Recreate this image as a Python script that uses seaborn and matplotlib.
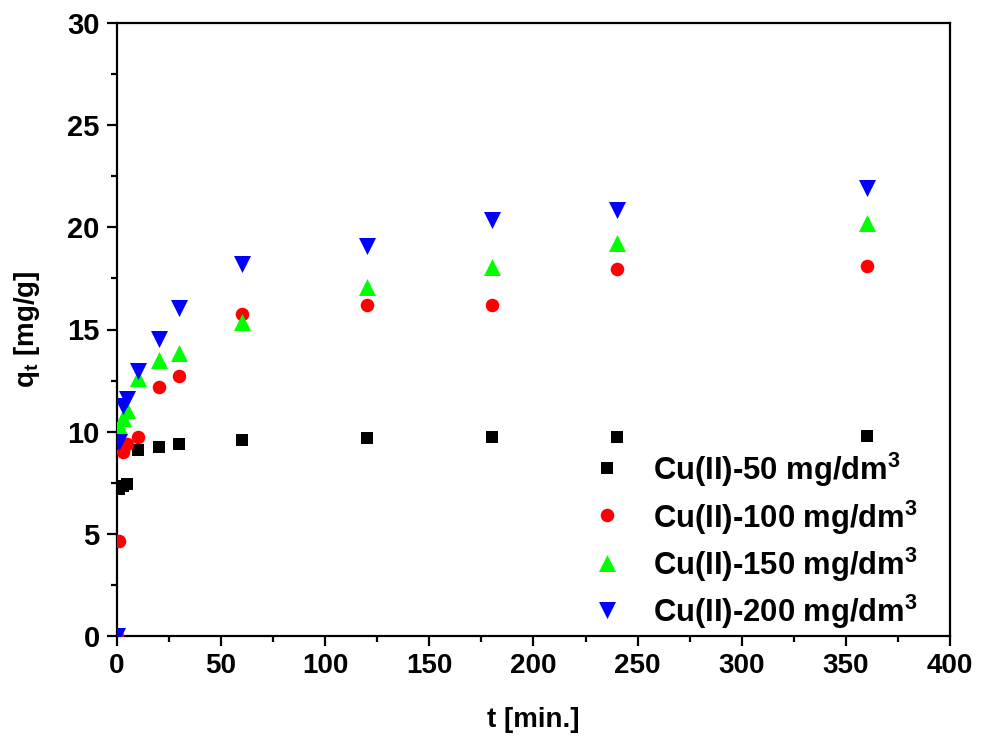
import matplotlib
matplotlib.use("Agg")
import matplotlib.pyplot as plt
from matplotlib.ticker import MultipleLocator
import seaborn as sns
import pandas as pd

# Contact time [min]
t_min = [0, 1, 3, 5, 10, 20, 30, 60, 120, 180, 240, 360]

# Sorbed amount q_t [mg/g] for each initial Cu(II) concentration
q_50 = [0, 7.2, 7.35, 7.45, 9.1, 9.27, 9.4, 9.61, 9.7, 9.73, 9.73, 9.78]
q_100 = [0, 4.65, 9.0, 9.4, 9.75, 12.17, 12.73, 15.77, 16.21, 16.21, 17.98, 18.1]
q_150 = [0, 10.3, 10.65, 11.05, 12.63, 13.52, 13.85, 15.38, 17.1, 18.07, 19.25, 20.23]
q_200 = [0, 9.5, 11.25, 11.6, 12.98, 14.53, 16.05, 18.22, 19.1, 20.38, 20.87, 21.91]

labels = [
    "Cu(II)-50 mg/dm$^3$",
    "Cu(II)-100 mg/dm$^3$",
    "Cu(II)-150 mg/dm$^3$",
    "Cu(II)-200 mg/dm$^3$",
]
series = [q_50, q_100, q_150, q_200]
colors = ["#000000", "#FF0000", "#00FF00", "#0000FF"]
markers = ["s", "o", "^", "v"]
sizes = [70, 95, 150, 150]

sns.set_theme(style="ticks")
plt.rcParams["font.family"] = ["Liberation Sans", "DejaVu Sans"]
plt.rcParams["font.weight"] = "bold"
plt.rcParams["text.color"] = "black"
plt.rcParams["axes.labelcolor"] = "black"
plt.rcParams["xtick.color"] = "black"
plt.rcParams["ytick.color"] = "black"
plt.rcParams["mathtext.fontset"] = "custom"
plt.rcParams["mathtext.rm"] = "Liberation Sans:bold"
plt.rcParams["mathtext.it"] = "Liberation Sans:bold"
plt.rcParams["mathtext.bf"] = "Liberation Sans:bold"
plt.rcParams["mathtext.default"] = "rm"

frames = []
for lab, q in zip(labels, series):
    frames.append(pd.DataFrame({"t": t_min, "q": q, "series": lab}))
df = pd.concat(frames, ignore_index=True)

fig = plt.figure(figsize=(9.82, 7.43), dpi=100)
ax = fig.add_axes([117 / 982, 1 - 636 / 743, (950 - 117) / 982, (636 - 23) / 743])

for lab, col, mk, sz in zip(labels, colors, markers, sizes):
    sub = df[df["series"] == lab]
    sns.scatterplot(data=sub, x="t", y="q", ax=ax, color=col, marker=mk,
                    s=sz, linewidth=0, label=lab, clip_on=True, zorder=3)

ax.set_xlim(0, 400)
ax.set_ylim(0, 30)
ax.xaxis.set_major_locator(MultipleLocator(50))
ax.xaxis.set_minor_locator(MultipleLocator(25))
ax.yaxis.set_major_locator(MultipleLocator(5))
ax.yaxis.set_minor_locator(MultipleLocator(2.5))

for sp in ax.spines.values():
    sp.set_linewidth(1.6)
    sp.set_color("black")
    sp.set_visible(True)

ax.tick_params(axis="both", which="major", direction="out", length=7.5,
               width=1.6, labelsize=20, colors="black", pad=5)
ax.tick_params(axis="y", which="major", labelsize=21)
ax.tick_params(axis="both", which="minor", direction="out", length=4,
               width=1.6, colors="black")
for lbl in ax.get_xticklabels() + ax.get_yticklabels():
    lbl.set_fontweight("bold")

ax.set_xlabel("t [min.]", fontsize=20, fontweight="bold", labelpad=20)
ax.set_ylabel("q$_t$ [mg/g]", fontsize=20, fontweight="bold", labelpad=18)

leg = ax.legend(loc="upper left", bbox_to_anchor=(576 / 982, 1 - 451 / 743),
                bbox_transform=fig.transFigure, frameon=False,
                handletextpad=0.5, labelspacing=0.29, borderpad=0,
                borderaxespad=0, scatteryoffsets=[0.57],
                prop={"weight": "bold", "size": 22.3})
for txt in leg.get_texts():
    txt.set_color("black")

fig.savefig("out.png", dpi=100)
